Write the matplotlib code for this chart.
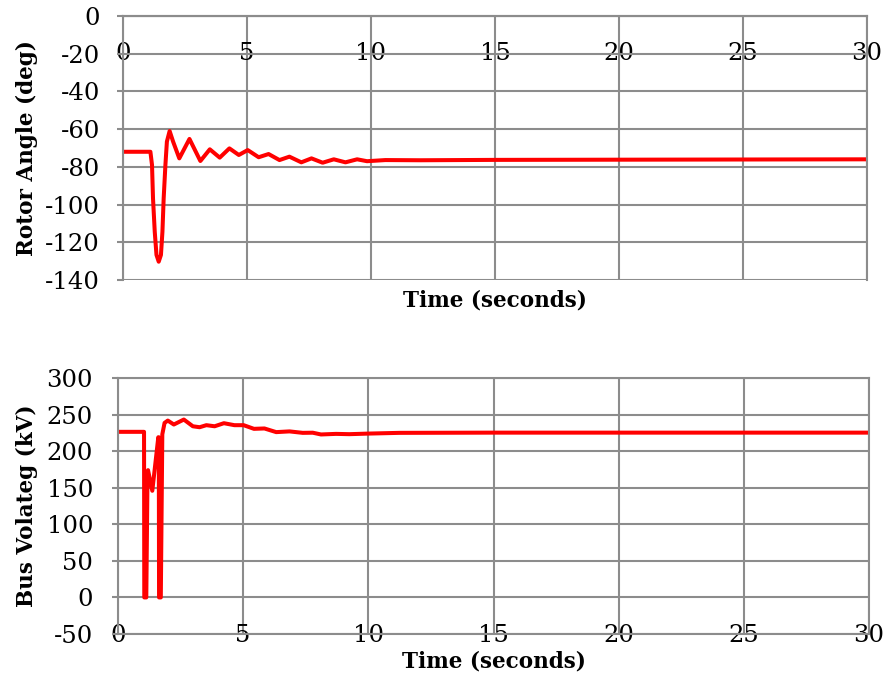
import matplotlib
matplotlib.use("Agg")
import matplotlib.pyplot as plt

plt.rcParams['font.family'] = ['DejaVu Serif']
plt.rcParams['axes.unicode_minus'] = False

# Rotor angle (deg) vs time (s)
t_angle = [0, 1.105, 1.17, 1.21, 1.28, 1.35, 1.44, 1.53, 1.59, 1.64, 1.71, 1.77, 1.88, 2.02,
           2.27, 2.68, 3.12, 3.50, 3.90, 4.29, 4.67, 5.03, 5.47, 5.87, 6.31, 6.71, 7.19,
           7.6, 8.05, 8.5, 8.97, 9.44, 9.84, 10.58, 12.0, 15.0, 20.0, 25.0, 30.0]
angle = [-72, -72, -79.0, -96.7, -114.4, -126.7, -130.3, -126.7, -114.4, -96.7, -79.0, -66.6, -61.0, -66.6,
         -75.5, -65.2, -76.9, -70.7, -75.1, -70.2, -73.7, -71.1, -74.9, -73.2, -76.4, -74.6, -77.6,
         -75.5, -77.8, -76.0, -77.6, -76.0, -77.0, -76.4, -76.5, -76.3, -76.2, -76.1, -76.0]

# Bus voltage (kV) vs time (s)
t_volt = [0, 1.04, 1.05, 1.13, 1.18, 1.2, 1.37, 1.61, 1.63, 1.64, 1.71, 1.77, 1.86, 1.99,
          2.23, 2.63, 2.99, 3.26, 3.53, 3.86, 4.23, 4.65, 5.02, 5.43, 5.85, 6.32, 6.85, 7.38,
          7.78, 8.11, 8.71, 9.24, 10.0, 11.24, 15.0, 20.0, 25.0, 30.0]
volt = [226.4, 226.4, 0, 0, 170, 174, 145.8, 219, 219, 0, 0, 223, 238.6, 241.8,
        236.4, 243.2, 234, 232.7, 235.5, 234, 238.2, 235.5, 235.5, 230.5, 231, 226, 227, 225,
        225.2, 222.8, 223.6, 223.2, 224, 225, 225.3, 225.3, 225.3, 225.3]

x_ticks = [0, 5, 10, 15, 20, 25, 30]
angle_ticks = [0, -20, -40, -60, -80, -100, -120, -140]
volt_ticks = [300, 250, 200, 150, 100, 50, 0, -50]

grid_c = '#8c8c8c'
fig = plt.figure(figsize=(8.85, 6.79), dpi=100)

ax1 = fig.add_axes([123/885, 1-280/679, 744/885, 264/679])
ax2 = fig.add_axes([118/885, 1-634/679, 751/885, 256/679])

for ax in (ax1, ax2):
    ax.set_xlim(0, 30)
    ax.set_xticks(x_ticks)
    ax.grid(True, color=grid_c, linewidth=1.5)
    ax.set_axisbelow(True)
    for s in ax.spines.values():
        s.set_color(grid_c)
        s.set_linewidth(1.5)
    ax.tick_params(axis='y', color=grid_c, width=1.5, length=4.5, labelsize=17.5)
    ax.tick_params(axis='x', length=0, labelsize=17.5)

ax1.plot(t_angle, angle, color='#ff0000', linewidth=2.9, solid_joinstyle='round')
ax1.set_ylim(-140, 0)
ax1.set_yticks(angle_ticks)
ax1.tick_params(axis='y', pad=12)
ax1.spines['bottom'].set_position(('data', 0))
ax1.tick_params(axis='x', pad=19)
ax1.set_xlabel('Time (seconds)', fontsize=15.5, fontweight='bold')
ax1.xaxis.set_label_coords(0.5, -0.035)
ax1.set_ylabel('Rotor Angle (deg)', fontsize=15.5, fontweight='bold')
ax1.yaxis.set_label_coords(-0.114, 0.5)

ax2.plot(t_volt, volt, color='#ff0000', linewidth=2.9, solid_joinstyle='round')
ax2.set_ylim(-50, 300)
ax2.set_yticks(volt_ticks)
ax2.tick_params(axis='y', pad=13.5)
ax2.tick_params(axis='x', pad=-7.5)
ax2.set_xlabel('Time (seconds)', fontsize=15.5, fontweight='bold')
ax2.xaxis.set_label_coords(0.5, -0.065)
ax2.set_ylabel('Bus Volateg (kV)', fontsize=15.5, fontweight='bold')
ax2.yaxis.set_label_coords(-0.106, 0.5)

fig.savefig('out.png', dpi=100)
